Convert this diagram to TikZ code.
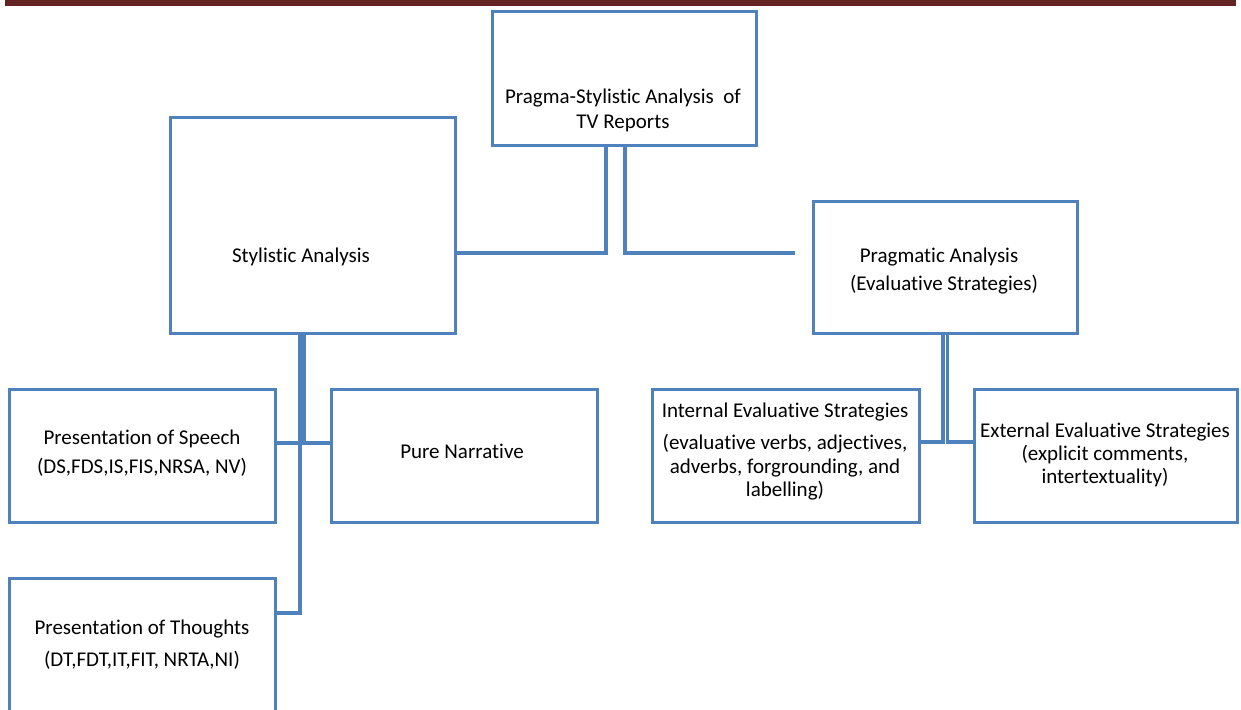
\documentclass[tikz,border=0pt]{standalone}
\usepackage{fontspec}
\setmainfont{Carlito}[Ligatures=NoCommon]
\definecolor{bblue}{HTML}{4F81BD}
\definecolor{barred}{HTML}{632423}
\begin{document}
\begin{tikzpicture}[x=1pt,y=-1pt,
  box/.style={draw=bblue, line width=3pt, rectangle, inner sep=0pt, outer sep=0pt, anchor=north west},
  link/.style={draw=bblue, line width=3.1pt},
  lbl/.style={font=\fontsize{21}{25}\selectfont, inner sep=0pt, anchor=base}]
\useasboundingbox (0,0) rectangle (1241,709);
\clip (0,0) rectangle (1241,709);
\fill[barred] (5,0) rectangle (1236,6);
% boxes
\node[box, minimum width=264pt, minimum height=133pt] (top) at (492,12) {};
\node[box, minimum width=285pt, minimum height=216pt] (sty) at (170,117) {};
\node[box, minimum width=264pt, minimum height=132pt] (prag) at (813,201) {};
\node[box, minimum width=266pt, minimum height=133pt] (speech) at (9,389) {};
\node[box, minimum width=266pt, minimum height=133pt] (pure) at (331,389) {};
\node[box, minimum width=267pt, minimum height=133pt] (intl) at (652,389) {};
\node[box, minimum width=263pt, minimum height=133pt] (extl) at (974,389) {};
\node[box, minimum width=266pt, minimum height=150pt] (thought) at (9,578) {};
% labels
\node[lbl] (t1) at (623,103) {Pragma-Stylistic Analysis\ \ of};
\node[lbl] (t2) at (623,128) {TV Reports};
\node[lbl] (s1) at (301,262) {Stylistic Analysis};
\node[lbl] (p1) at (939,262) {Pragmatic Analysis};
\node[lbl] (p2) at (944,290) {(Evaluative Strategies)};
\node[lbl] (sp1) at (142,444) {Presentation of Speech};
\node[lbl] (sp2) at (142,473) {(DS,FDS,IS,FIS,NRSA, NV)};
\node[lbl] (pn) at (462,458) {Pure Narrative};
\node[lbl] (i1) at (785,417) {Internal Evaluative Strategies};
\node[lbl] (i2) at (785,449) {(evaluative verbs, adjectives,};
\node[lbl] (i3) at (785,473) {adverbs, forgrounding, and};
\node[lbl] (i4) at (785,496) {labelling)};
\node[lbl] (e1) at (1105,437) {External Evaluative Strategies};
\node[lbl] (e2) at (1105,460) {(explicit comments,};
\node[lbl] (e3) at (1105,483) {intertextuality)};
\node[lbl] (th1) at (142,634) {Presentation of Thoughts};
\node[lbl] (th2) at (142,666) {(DT,FDT,IT,FIT, NRTA,NI)};
% connectors
\coordinate (prEnd) at (795,253);
\draw[link] (top.south -| 606,0) |- (sty.east |- 0,253);
\draw[link] (top.south -| 625,0) |- (prEnd);
\draw[link] (sty.south -| 300,0) |- (speech.east |- 0,443);
\draw[link] (300,443) |- (thought.east |- 0,613);
\draw[link] (sty.south -| 304,0) |- (pure.west |- 0,443);
\draw[link] (prag.south -| 943,0) |- (intl.east |- 0,442);
\draw[link] (prag.south -| 947.5,0) |- (extl.west |- 0,442);
\end{tikzpicture}
\end{document}
